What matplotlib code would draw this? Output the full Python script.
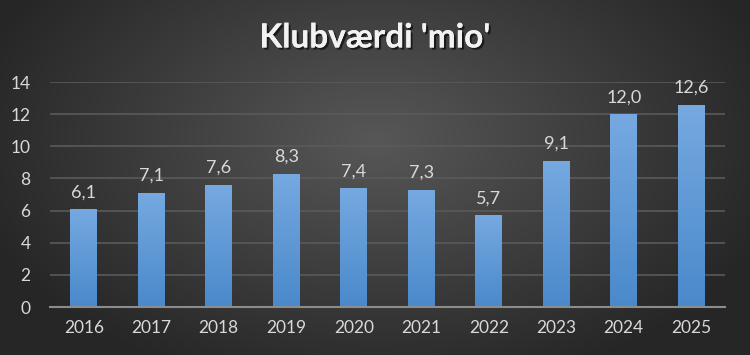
import numpy as np
import matplotlib
matplotlib.use("Agg")
import matplotlib.pyplot as plt
import matplotlib.patheffects as pe
from matplotlib.colors import LinearSegmentedColormap

years = ["2016", "2017", "2018", "2019", "2020", "2021", "2022", "2023", "2024", "2025"]
values = [6.1, 7.1, 7.6, 8.3, 7.4, 7.3, 5.7, 9.1, 12.0, 12.6]
title = "Klubværdi 'mio'"
yticks = [0, 2, 4, 6, 8, 10, 12, 14]

plt.rcParams['font.family'] = ['Lato', 'DejaVu Sans']

fig = plt.figure(figsize=(7.5, 3.55), dpi=100)

# radial gradient background
bg = fig.add_axes([0, 0, 1, 1], zorder=-10)
yy, xx = np.mgrid[0:355, 0:750]
cx, cy = 375, 140
r = np.sqrt(((xx - cx) / 420.0) ** 2 + ((yy - cy) / 260.0) ** 2)
r = np.clip(r, 0, 1)
bgcmap = LinearSegmentedColormap.from_list("bg", ["#575757", "#262626"])
bg.imshow(r, cmap=bgcmap, aspect='auto', extent=[0, 1, 0, 1], vmin=0, vmax=1)
bg.axis('off')

ax = fig.add_axes([0.0667, 0.135, 0.9, 0.634])
ax.set_facecolor('none')
x = np.arange(len(years))
bars = ax.bar(x, values, width=0.4, color='#5b9bd5', zorder=3)

barcmap = LinearSegmentedColormap.from_list("bar", ["#4a89cb", "#76a9e0"])
grad = np.linspace(0, 1, 256).reshape(-1, 1)
for b in bars:
    b.set_facecolor('none')
    im = ax.imshow(grad, cmap=barcmap, aspect='auto', origin='lower',
                   extent=[b.get_x(), b.get_x() + b.get_width(), 0, b.get_height()],
                   zorder=3)
    im.set_clip_path(b)

for xi, v in zip(x, values):
    ax.text(xi, v + 0.55, f"{v:.1f}".replace('.', ','), ha='center', va='bottom',
            color='#d9d9d9', fontsize=13)

ax.set_xlim(-0.5, len(years) - 0.5)
ax.set_ylim(0, 14)
ax.set_yticks(yticks)
ax.set_yticklabels([str(t) for t in yticks])
ax.set_xticks(x)
ax.set_xticklabels(years)
ax.tick_params(axis='both', length=0, colors='#d9d9d9', labelsize=12.5)
ax.tick_params(axis='x', pad=9)
ax.tick_params(axis='y', pad=14)
ax.grid(axis='y', color='#5a5a5a', linewidth=1.2, zorder=0)
ax.set_axisbelow(True)
for s in ['top', 'right', 'left']:
    ax.spines[s].set_visible(False)
ax.spines['bottom'].set_color('#8c8c8c')
ax.spines['bottom'].set_linewidth(1.5)
ax.spines['bottom'].set_zorder(4)

fig.text(0.5, 0.893, title, ha='center', va='center', color='#f2f2f2',
         fontsize=24, fontweight='bold',
         path_effects=[pe.withSimplePatchShadow(offset=(1.5, -1.5), shadow_rgbFace='black', alpha=0.6), pe.Normal()])

fig.savefig("out.png", dpi=100)
